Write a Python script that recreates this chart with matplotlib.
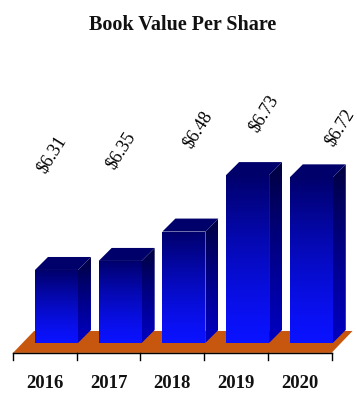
import numpy as np
import matplotlib.pyplot as plt
from matplotlib.patches import Polygon

# data
years = ['2016', '2017', '2018', '2019', '2020']
book_value = [6.31, 6.35, 6.48, 6.73, 6.72]
value_labels = ['$6.31', '$6.35', '$6.48', '$6.73', '$6.72']

# layout of the fake 3D look
y_floor = 5.987                 # where the bars stand
bar_left, bar_w = -0.155, 0.675
depth_x, depth_y = 0.204, 0.0575
floor_front, floor_dx, floor_dy = 5.943, 0.33, 0.097
label_nudge = [(-18, 102), (-12, 97), (1, 89), (3, 48), (15, 37)]   # pixels from bar top

plt.rcParams['font.family'] = ['Liberation Serif', 'DejaVu Serif']

fig = plt.figure(figsize=(3.57, 3.94), dpi=100)
ax = fig.add_axes([0, 0, 1, 1])
ax.axis('off')


def gradient_face(verts, c_bottom, c_top, gamma, z):
    verts = np.array(verts)
    x0, y0 = verts.min(axis=0)
    x1, y1 = verts.max(axis=0)
    t = (np.linspace(0, 1, 128) ** gamma)[:, None, None]
    img = np.array(c_bottom)[None, None, :] * (1 - t) + np.array(c_top)[None, None, :] * t
    img = np.repeat(img, 2, axis=1)
    poly = Polygon(verts, closed=True, fc='none', ec='none', zorder=z)
    ax.add_patch(poly)
    im = ax.imshow(img, extent=[x0, x1, y0, y1], origin='lower', aspect='auto',
                   interpolation='bilinear', zorder=z)
    im.set_clip_path(poly)


# orange floor
n = len(years)
floor = Polygon([(-0.5, floor_front), (n - 0.5, floor_front),
                 (n - 0.5 + floor_dx, floor_front + floor_dy), (-0.5 + floor_dx, floor_front + floor_dy)],
                closed=True, fc='#C7570E', ec='none', zorder=1)
ax.add_patch(floor)
ax.plot([-0.5, n - 0.5], [floor_front, floor_front], color='black', lw=1, zorder=1.5)
for k in range(n + 1):
    ax.plot([k - 0.5, k - 0.5], [floor_front, floor_front - 0.031], color='black', lw=1, zorder=1.5)

# bars
for i, v in enumerate(book_value):
    x0 = i + bar_left
    x1 = x0 + bar_w
    front = [(x0, y_floor), (x1, y_floor), (x1, v), (x0, v)]
    side = [(x1, y_floor), (x1 + depth_x, y_floor + depth_y), (x1 + depth_x, v + depth_y), (x1, v)]
    top = [(x0, v), (x1, v), (x1 + depth_x, v + depth_y), (x0 + depth_x, v + depth_y)]
    gradient_face(front, (0.04, 0.07, 1.0), (0.0, 0.0, 0.42), 1.3, 2 + i)
    gradient_face(side, (0.0, 0.0, 0.75), (0.0, 0.0, 0.25), 1.2, 2 + i)
    ax.add_patch(Polygon(top, closed=True, fc='#00006A', ec='none', zorder=2 + i))

    dx, dy = label_nudge[i]
    ax.annotate(value_labels[i], (x0 + bar_w / 2 + depth_x, v + depth_y),
                xytext=(dx, dy), textcoords='offset pixels',
                ha='center', va='center', rotation=58, rotation_mode='anchor',
                fontsize=13, color='black', zorder=10)

    ax.text(i, 5.788, years[i], ha='center', va='baseline',
            fontsize=13.5, fontweight='bold', color='#111111')

fig.text(0.511, 1 - 30 / 394, 'Book Value Per Share', ha='center', va='baseline',
         fontsize=14.5, fontweight='bold', color='#111111')

ax.set_xlim(-0.704, 4.900)
ax.set_ylim(5.761, 7.505)

fig.savefig('out.png', dpi=100)
